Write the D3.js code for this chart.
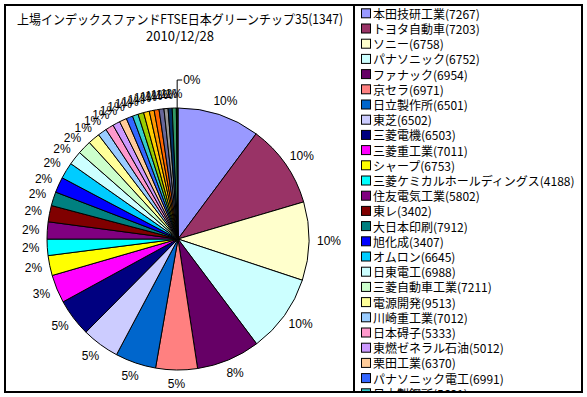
<!DOCTYPE html>
<html><head><meta charset="utf-8">
<script src="https://cdn.jsdelivr.net/npm/d3@7"></script>
<style>
html,body{margin:0;padding:0;background:#fff;}
svg{display:block;}
</style></head>
<body>
<svg id="chart" width="587" height="397"></svg>
<script>
const titleLines = ["上場インデックスファンドFTSE日本グリーンチップ35(1347)", "2010/12/28"];
const categories = [
  "本田技研工業(7267)","トヨタ自動車(7203)","ソニー(6758)","パナソニック(6752)","ファナック(6954)",
  "京セラ(6971)","日立製作所(6501)","東芝(6502)","三菱電機(6503)","三菱重工業(7011)",
  "シャープ(6753)","三菱ケミカルホールディングス(4188)","住友電気工業(5802)","東レ(3402)","大日本印刷(7912)",
  "旭化成(3407)","オムロン(6645)","日東電工(6988)","三菱自動車工業(7211)","電源開発(9513)",
  "川崎重工業(7012)","日本碍子(5333)","東燃ゼネラル石油(5012)","栗田工業(6370)","パナソニック電工(6991)",
  "日本製鋼所(5631)","ジーエス・ユアサ(6674)","富士電機(6504)","明電舎(6508)","日立造船(7004)",
  "荏原(6361)","三洋電機(6764)","昭和シェル石油(5002)","タクマ(6013)","日本風力開発(2766)"
];
const weights = [
  10.1, 10.2, 9.6, 9.6, 7.8,
  5.1, 5.0, 4.6, 4.6, 3.45,
  2.45, 2.0, 2.1, 2.0, 1.7,
  1.9, 2.0, 1.7, 1.7, 1.45,
  1.1, 1.0, 0.9, 0.9, 0.8,
  0.7, 0.7, 0.7, 0.6, 0.6,
  0.6, 0.5, 0.5, 0.5, 0.2
];
const palette = [
  "#9999FF","#993366","#FFFFCC","#CCFFFF","#660066","#FF8080","#0066CC","#CCCCFF",
  "#000080","#FF00FF","#FFFF00","#00FFFF","#800080","#800000","#008080","#0000FF",
  "#00CCFF","#CCFFFF","#CCFFCC","#FFFF99","#99CCFF","#FF99CC","#CC99FF","#FFCC99",
  "#3366FF","#33CCCC","#99CC00","#FFCC00","#FF9900","#FF6600","#666699","#969696",
  "#003366","#339966","#003300"
];

const svg = d3.select("#chart");
const cjk = "'Noto Sans CJK JP','Noto Sans',sans-serif";
const latin = "'Liberation Sans',Arial,sans-serif";

// frame
svg.append("rect").attr("x",5).attr("y",5).attr("width",577).attr("height",387)
  .attr("fill","#fff").attr("stroke","#000").attr("stroke-width",2);

// title
titleLines.forEach((t,i)=>{
  svg.append("text").attr("x",180).attr("y",18+i*17)
    .attr("text-anchor","middle").attr("dominant-baseline","central")
    .attr("font-family",cjk).attr("font-size",13).attr("fill","#000")
    .attr("textLength", i===0?326:null).attr("lengthAdjust","spacingAndGlyphs")
    .text(t);
});

// pie
const cx = 178, cy = 239, r = 131;
const color = d3.scaleOrdinal().domain(categories).range(palette);
const data = categories.map((c,i)=>({name:c, value:weights[i]}));
const total = d3.sum(weights);
const pie = d3.pie().value(d=>d.value).sort(null);
const arcs = pie(data);
const arc = d3.arc().innerRadius(0).outerRadius(r);
const g = svg.append("g").attr("transform",`translate(${cx},${cy})`);
g.selectAll("path").data(arcs).join("path")
  .attr("d",arc).attr("fill",d=>color(d.data.name))
  .attr("stroke","#000").attr("stroke-width",1).attr("stroke-linejoin","round");

// labels
const fmt = v => Math.round(v/total*100) + "%";
arcs.forEach(d=>{
  const a = (d.startAngle+d.endAngle)/2;
  const s = Math.sin(a), c = Math.cos(a);
  const lbl = fmt(d.data.value);
  if (lbl === "0%") {
    const x0 = r*s, y0 = -r*c, yTop = -r-28;
    g.append("path").attr("d",`M${x0},${y0}L${x0},${yTop}L${x0+5},${yTop}`)
      .attr("fill","none").attr("stroke","#000").attr("stroke-width",1);
    g.append("text").attr("x",x0+6).attr("y",yTop).attr("dominant-baseline","central")
      .attr("font-family",latin).attr("font-size",12).attr("fill","#000").text(lbl);
    return;
  }
  const t = g.append("text").attr("font-family",latin).attr("font-size",12).attr("fill","#000")
    .attr("text-anchor","middle").attr("dominant-baseline","central").text(lbl);
  const w = t.node().getComputedTextLength(), h = 12;
  const R = r + 8;
  t.attr("x", R*s + w/2*s).attr("y", -R*c - h/2*c);
});

// legend
const legend = svg.append("g");
svg.append("clipPath").attr("id","lc").append("rect").attr("x",354).attr("y",5).attr("width",228).attr("height",387);
legend.attr("clip-path","url(#lc)");
const rowH = 15.2, row0 = 13.3;
categories.forEach((cName,i)=>{
  const y = row0 + i*rowH;
  legend.append("rect").attr("x",361.5).attr("y",y-4.5).attr("width",9).attr("height",9)
    .attr("fill",color(cName)).attr("stroke","#000").attr("stroke-width",1);
  legend.append("text").attr("x",373).attr("y",y).attr("dominant-baseline","central")
    .attr("font-family",cjk).attr("font-size",12).attr("fill","#000").text(cName);
});
// frame lines on top
svg.append("rect").attr("x",5).attr("y",5).attr("width",577).attr("height",387)
  .attr("fill","none").attr("stroke","#000").attr("stroke-width",2);
svg.append("line").attr("x1",354).attr("x2",354).attr("y1",5).attr("y2",392)
  .attr("stroke","#000").attr("stroke-width",2);
</script>
</body></html>
